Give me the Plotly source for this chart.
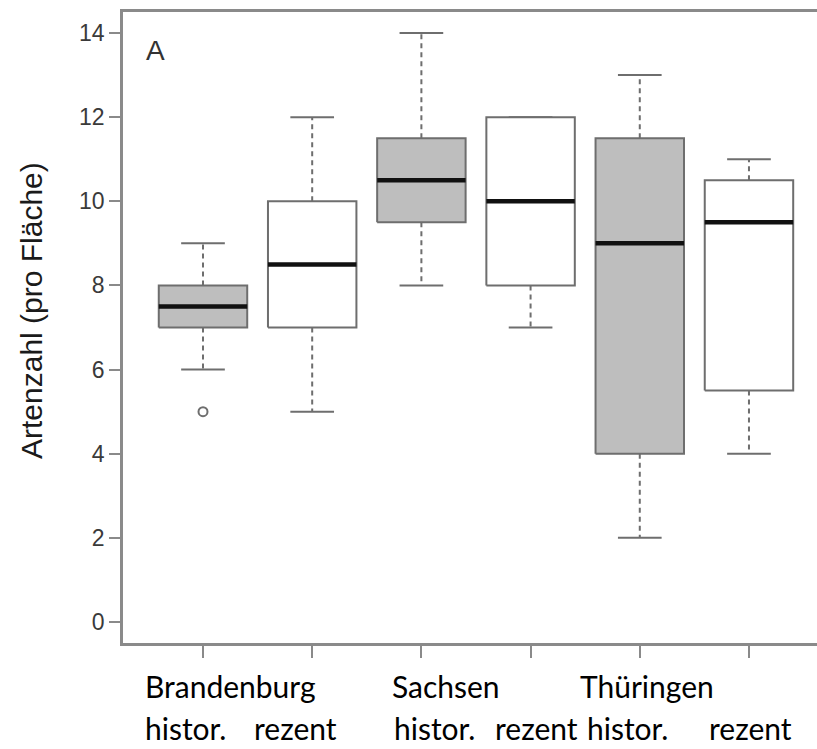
import plotly.graph_objects as go

# ---- data ----
groups = ["Brandenburg", "Brandenburg", "Sachsen", "Sachsen", "Thüringen", "Thüringen"]
periods = ["histor.", "rezent", "histor.", "rezent", "histor.", "rezent"]
positions = [1, 2, 3, 4, 5, 6]
q1 = [7, 7, 9.5, 8, 4, 5.5]
median = [7.5, 8.5, 10.5, 10, 9, 9.5]
q3 = [8, 10, 11.5, 12, 11.5, 10.5]
lower_whisker = [6, 5, 8, 7, 2, 4]
upper_whisker = [9, 12, 14, 12, 13, 11]
outlier_x = [1]
outlier_y = [5]
y_ticks = [0, 2, 4, 6, 8, 10, 12, 14]

GRAY_FILL = "#bebebe"
LINE = "#6e6e6e"
HALF_BOX = 0.405
HALF_CAP = 0.2

fig = go.Figure()

for i, x in enumerate(positions):
    fill = GRAY_FILL if periods[i] == "histor." else "#ffffff"
    # dashed whiskers
    if upper_whisker[i] > q3[i]:
        fig.add_trace(go.Scatter(x=[x, x], y=[q3[i], upper_whisker[i]], mode="lines",
                                 line=dict(color=LINE, width=2, dash="5px,4px"),
                                 hoverinfo="skip", showlegend=False))
    if lower_whisker[i] < q1[i]:
        fig.add_trace(go.Scatter(x=[x, x], y=[q1[i], lower_whisker[i]], mode="lines",
                                 line=dict(color=LINE, width=2, dash="5px,4px"),
                                 hoverinfo="skip", showlegend=False))
    # caps
    for v in (upper_whisker[i], lower_whisker[i]):
        fig.add_trace(go.Scatter(x=[x - HALF_CAP, x + HALF_CAP], y=[v, v], mode="lines",
                                 line=dict(color=LINE, width=2),
                                 hoverinfo="skip", showlegend=False))
    # box
    fig.add_trace(go.Scatter(
        x=[x - HALF_BOX, x + HALF_BOX, x + HALF_BOX, x - HALF_BOX, x - HALF_BOX],
        y=[q1[i], q1[i], q3[i], q3[i], q1[i]],
        mode="lines", fill="toself", fillcolor=fill,
        line=dict(color=LINE, width=2), hoverinfo="skip", showlegend=False))
    # median
    fig.add_trace(go.Scatter(x=[x - HALF_BOX, x + HALF_BOX], y=[median[i], median[i]],
                             mode="lines", line=dict(color="#111111", width=4.5),
                             hoverinfo="skip", showlegend=False))

fig.add_trace(go.Scatter(x=outlier_x, y=outlier_y, mode="markers",
                         marker=dict(symbol="circle-open", size=9, color=LINE,
                                     line=dict(width=2, color=LINE)),
                         hoverinfo="skip", showlegend=False))

fig.update_layout(
    width=817, height=749,
    margin=dict(l=123, r=0, t=12, b=106),
    paper_bgcolor="white", plot_bgcolor="white",
    font=dict(family="Liberation Sans, Arial, sans-serif", color="#333333"),
    xaxis=dict(range=[0.2674, 6.623], tickvals=positions, ticktext=[""] * 6,
               showgrid=False, zeroline=False, showline=True, mirror=True,
               linecolor="#8a8a8a", linewidth=2.5,
               ticks="outside", ticklen=12, tickwidth=2, tickcolor="#8a8a8a"),
    yaxis=dict(range=[-0.5, 14.5], tickvals=y_ticks, ticktext=[str(v) for v in y_ticks],
               showgrid=False, zeroline=False, showline=True, mirror=False,
               linecolor="#8a8a8a", linewidth=2.5,
               ticks="outside", ticklen=11, tickwidth=2, tickcolor="#8a8a8a",
               tickfont=dict(size=23, color="#3a3a3a")),
)

# panel letter
fig.add_annotation(text="A", xref="paper", yref="paper", x=0, y=1, xanchor="center",
                   yanchor="middle", xshift=32, yshift=-38, showarrow=False,
                   font=dict(size=28, color="#333333"))

# y-axis title
fig.add_annotation(text="Artenzahl (pro Fläche)", xref="paper", yref="paper",
                   x=0, y=(643 - 311) / 631, xanchor="center", yanchor="middle",
                   xshift=-92, textangle=-90, showarrow=False,
                   font=dict(size=30, color="#1a1a1a"))

# bottom labels (two lines of words)
LAB_FONT = dict(family="Lato, Carlito, Calibri, sans-serif", size=30, color="#000000")
line1 = [("Brandenburg", 143), ("Sachsen", 390), ("Thüringen", 578)]
line2 = [(periods[0], 143), (periods[1], 252), (periods[2], 392),
         (periods[3], 493), (periods[4], 585), (periods[5], 707)]
for txt, px in line1:
    fig.add_annotation(text=txt, xref="paper", yref="paper", x=0, y=0,
                       xanchor="left", yanchor="bottom", xshift=px - 123, yshift=-63,
                       showarrow=False, font=LAB_FONT)
for txt, px in line2:
    fig.add_annotation(text=txt, xref="paper", yref="paper", x=0, y=0,
                       xanchor="left", yanchor="bottom", xshift=px - 123, yshift=-105,
                       showarrow=False, font=LAB_FONT)

fig.write_html("out.html", config={"displayModeBar": False},
               post_script="document.body.style.margin='0';document.body.style.overflow='hidden';")
